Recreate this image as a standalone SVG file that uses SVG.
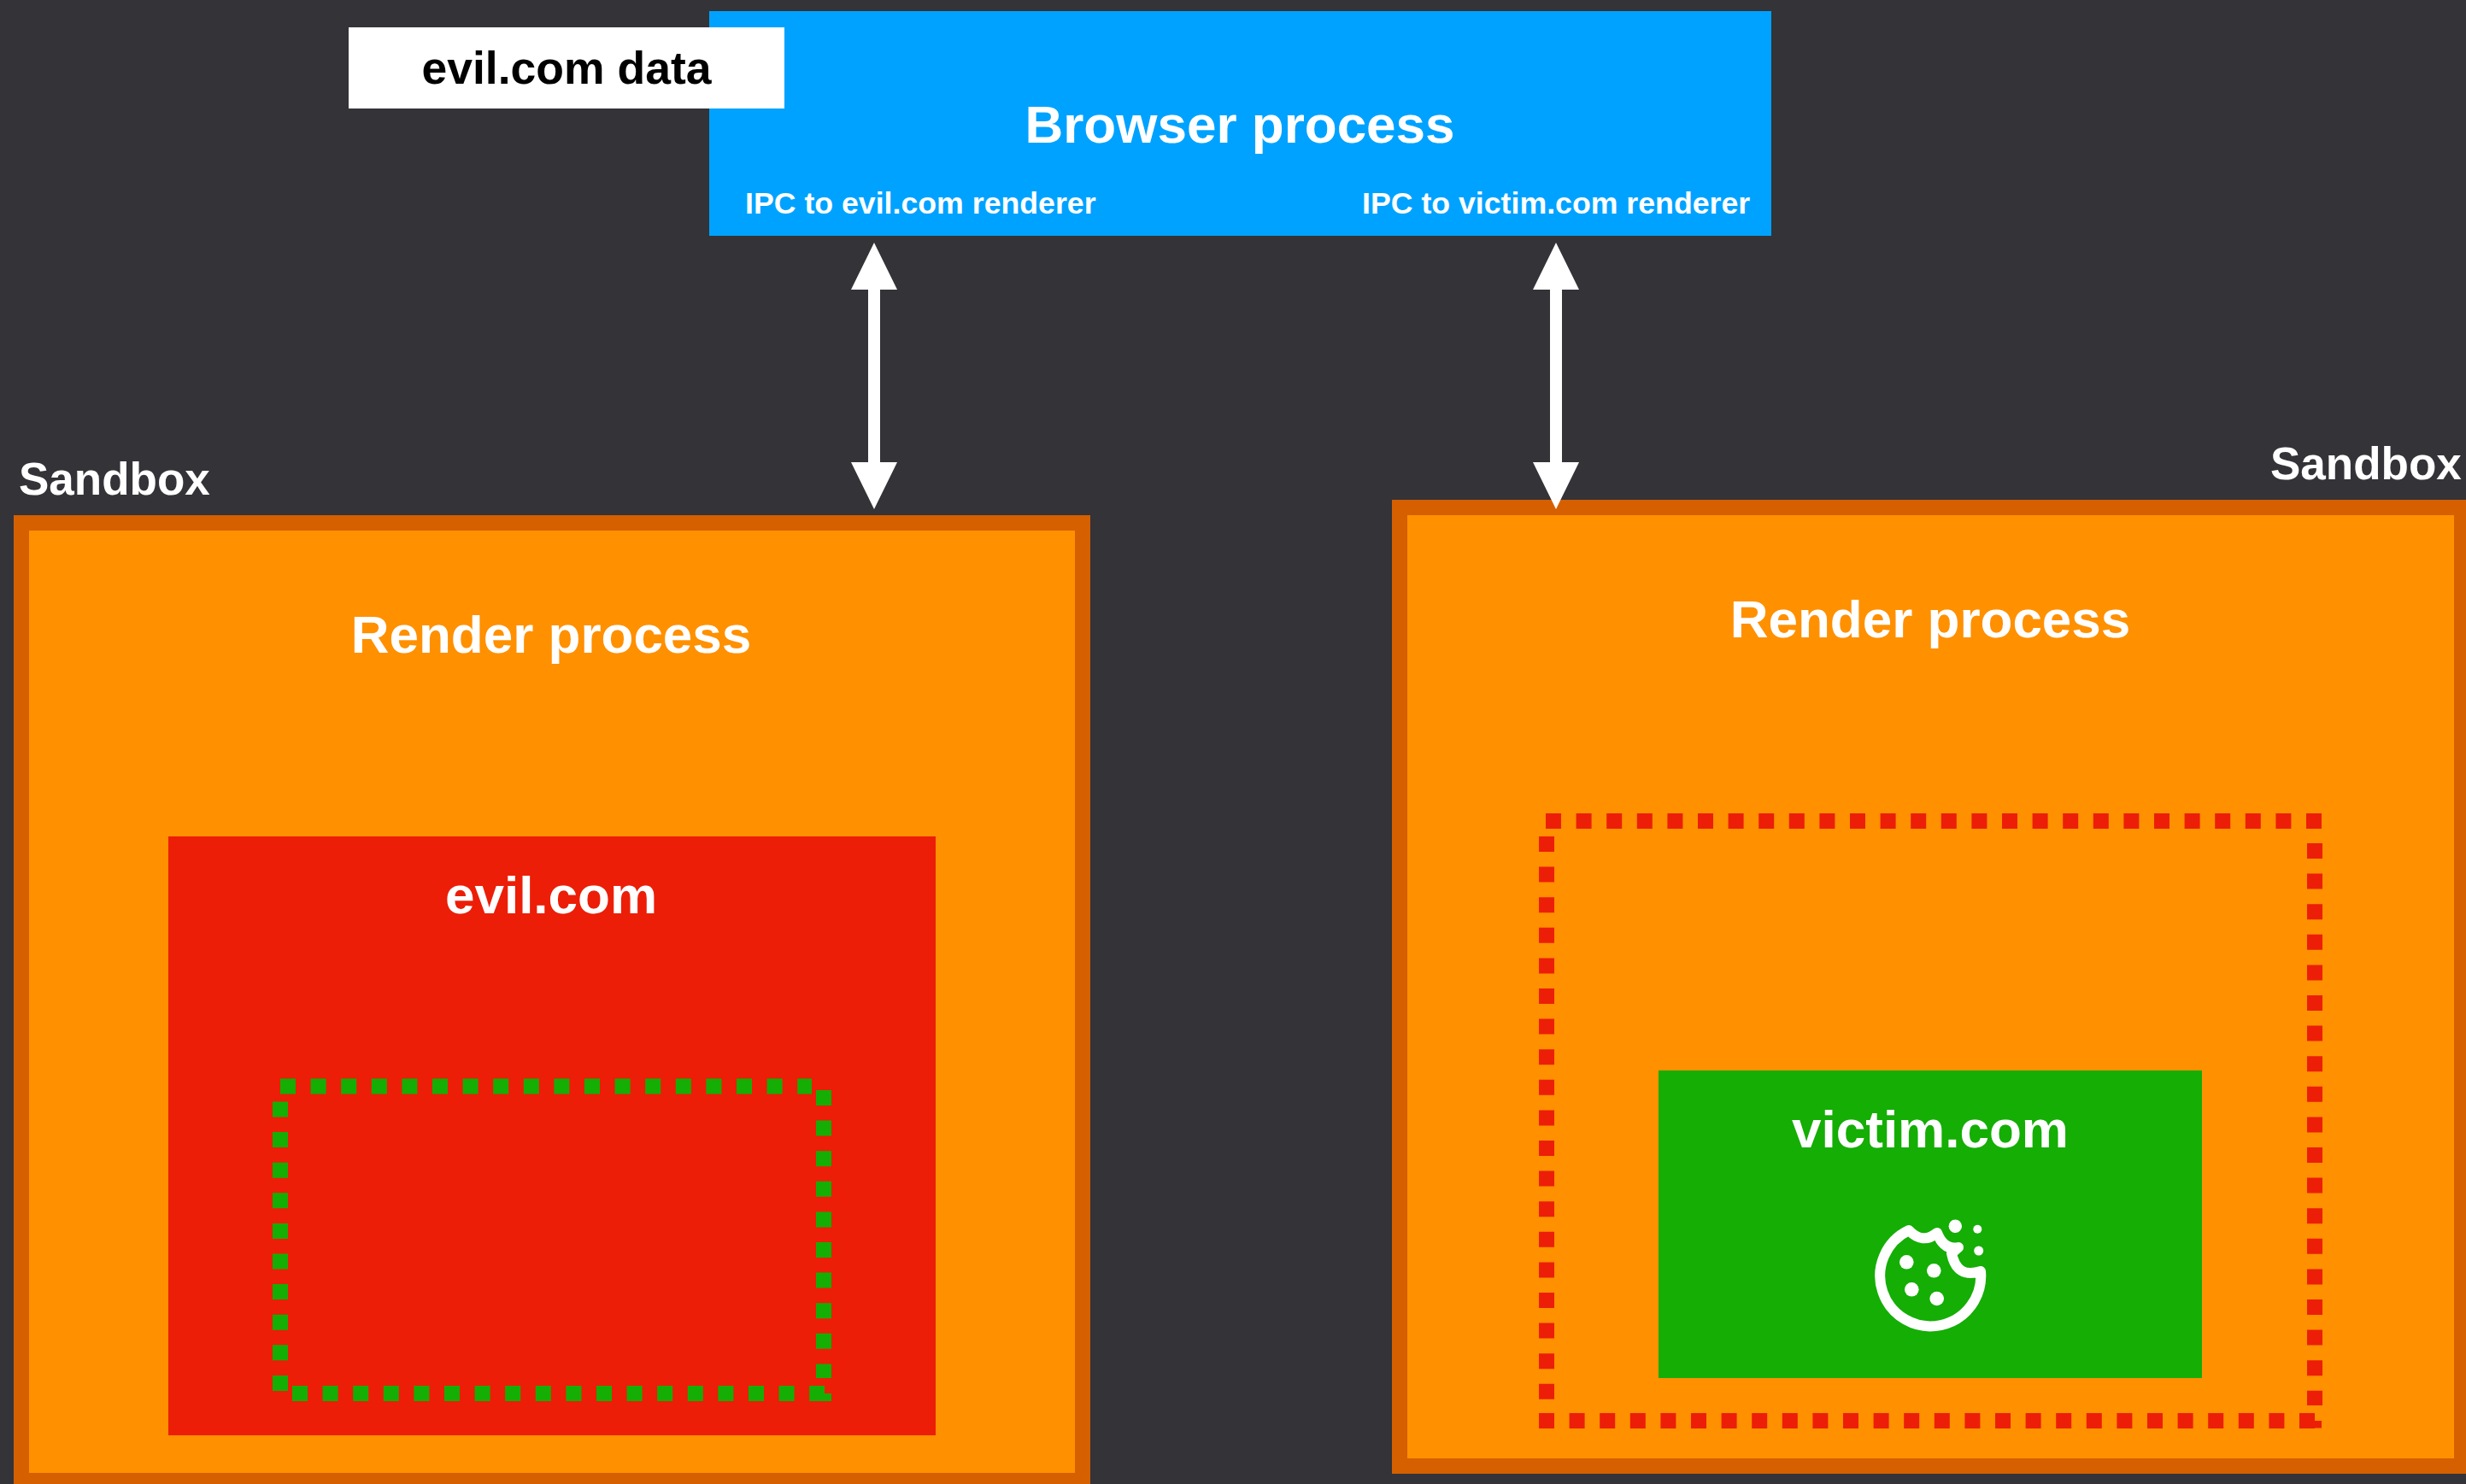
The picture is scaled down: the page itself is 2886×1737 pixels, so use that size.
<svg xmlns="http://www.w3.org/2000/svg" width="2886" height="1737" viewBox="0 0 2886 1737">
<style>
text{font-family:"Liberation Sans",Arial,sans-serif;font-weight:700;fill:#fff}
.t{font-size:62px;text-anchor:middle}
.s{font-size:53px}
.i{font-size:35.7px}
.sb{fill:#ff9000;stroke:#d65f00;stroke-width:18}
.dg{fill:none;stroke:#14ae05;stroke-width:18;stroke-dasharray:18 17.6}
.dr{fill:none;stroke:#ec1e07;stroke-width:18;stroke-dasharray:18 17.6}
.ar{fill:none;stroke:#fff;stroke-width:14}
.ah{fill:#fff}
</style>
<rect width="2886" height="1737" fill="#333338"/>
<g id="browser"><rect x="830" y="13" width="1243" height="263" fill="#00a2ff"/>
<text class="t" x="1451" y="167">Browser process</text>
<text class="i" x="872" y="250">IPC to evil.com renderer</text>
<text class="i" x="1594" y="250">IPC to victim.com renderer</text></g>
<g id="data"><rect x="408" y="32" width="510" height="95" fill="#fff"/>
<text x="663" y="98" style="font-size:53.5px;text-anchor:middle;fill:#000">evil.com data</text></g>
<g id="sandbox-left"><text class="s" x="22" y="579">Sandbox</text>
<rect class="sb" x="25" y="612" width="1242" height="1121"/>
<text class="t" x="645" y="764">Render process</text></g>
<g id="evil"><rect x="197" y="979" width="898" height="701" fill="#ec1e07"/>
<text class="t" x="645" y="1069">evil.com</text>
<path class="dg" d="M328 1271.5H950M328 1289.5V1628M964 1276V1613M342 1631H965"/>
<rect x="965" y="1631" width="8" height="9" fill="#14ae05"/></g>
<g id="sandbox-right"><text class="s" x="2657" y="561">Sandbox</text>
<rect class="sb" x="1638" y="594" width="1243" height="1122"/>
<text class="t" x="2259" y="746">Render process</text></g>
<g id="red-frame"><path class="dr" d="M1809 961H2717M1810 979V1671M2709 987V1645M1801 1663H2709"/>
<rect x="2709" y="1663" width="8" height="8.5" fill="#ec1e07"/></g>
<g id="victim"><rect x="1941" y="1253" width="636" height="360" fill="#14ae05"/>
<text class="t" x="2259" y="1343">victim.com</text>
<path d="M2234 1440A59 59 0 1 0 2318 1488Q2290 1497 2284 1467L2292 1460Q2275 1464 2267 1443Q2250 1457 2234 1440Z" fill="none" stroke="#fff" stroke-width="12" stroke-linejoin="round"/>
<g fill="#fff"><circle cx="2288.3" cy="1435.3" r="7.7"/><circle cx="2314.3" cy="1438.7" r="5"/><circle cx="2315.7" cy="1464" r="5.5"/><circle cx="2231.3" cy="1477.3" r="8.3"/><circle cx="2263.3" cy="1487.3" r="8.3"/><circle cx="2237.3" cy="1509.3" r="8.3"/><circle cx="2266.7" cy="1520" r="8.3"/></g></g>
<g id="connectors">
<path class="ar" d="M1023 320V550M1821 320V550"/>
<path class="ah" d="M1023 284l27 55h-54zM1023 596l27-55h-54zM1821 284l27 55h-54zM1821 596l27-55h-54z"/>
</g>
</svg>
